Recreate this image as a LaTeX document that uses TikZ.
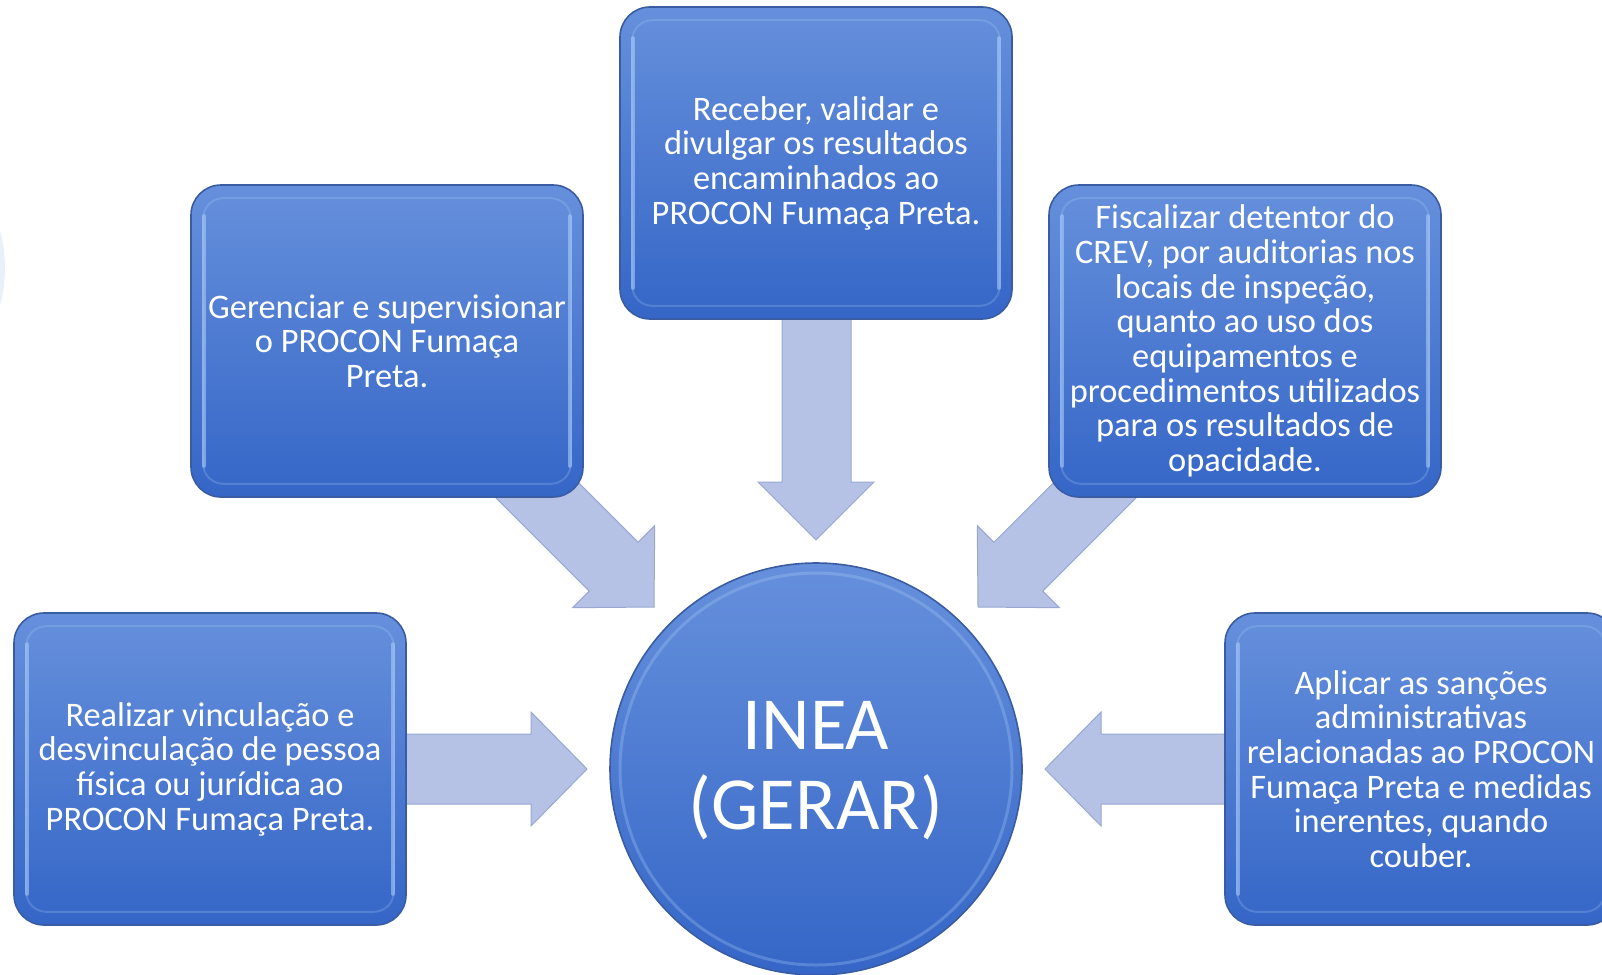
\documentclass[tikz,border=0pt]{standalone}
\usepackage{fontspec}
\setmainfont{Carlito}
\usetikzlibrary{calc}
\definecolor{boxtop}{HTML}{6690DC}
\definecolor{boxbot}{HTML}{3566C7}
\definecolor{boxrim}{HTML}{3A5CA3}
\definecolor{glow}{HTML}{A9CBF7}
\definecolor{arrowfill}{HTML}{B5C2E5}
\definecolor{arrowrim}{HTML}{98A8D1}
\definecolor{ghost}{HTML}{EAF0F9}
\tikzset{
  bluebox/.style={rectangle, rounded corners=30pt, minimum width=392pt, minimum height=312pt,
    top color=boxtop, bottom color=boxbot, draw=boxrim, line width=1.6pt,
    text=white, align=center, inner sep=0pt, font=\fontsize{34.4}{34.7}\selectfont},
  glowline/.style={draw=glow, line width=2pt, opacity=0.25, rounded corners=20pt},
  glowstrip/.style={draw=glow, line width=4pt, opacity=0.6, line cap=round},
  blockarrow/.style={fill=arrowfill, draw=arrowrim, line width=1pt, line join=miter},
  hub/.style={circle, minimum size=412pt, inner sep=0pt, top color=boxtop, bottom color=boxbot,
    draw=boxrim, line width=1.6pt},
  hubtext/.style={text=white, align=center, inner sep=0pt, font=\fontsize{75}{80}\selectfont}
}
\begin{document}
\begin{tikzpicture}[x=1pt,y=-1pt]
\useasboundingbox (0,0) rectangle (1602,974);
\clip (0,0) rectangle (1602,974);
\fill[white] (0,0) rectangle (1602,974);
% faint arc at the left edge
\fill[ghost] (-134.5,268) circle (139.5);
% block arrows (drawn before the boxes)
\draw[blockarrow] (782,300) -- (851,300) -- (851,482) -- (874,482) -- (816,540)
  -- (758,482) -- (782,482) -- cycle;
\draw[blockarrow] (380,734) -- (531,734) -- (531,712) -- (587,769) -- (531,826)
  -- (531,804) -- (380,804) -- cycle;
\draw[blockarrow] (1240,734) -- (1101,734) -- (1101,712) -- (1045,769) -- (1101,826)
  -- (1101,804) -- (1240,804) -- cycle;
\draw[blockarrow] (501.6,405.8) -- (638.1,542.3) -- (654.7,525.7) -- (654,607)
  -- (572.7,607.7) -- (589.3,591.1) -- (452.8,454.6) -- cycle;
\draw[blockarrow] (1130.4,405.8) -- (993.9,542.3) -- (977.3,525.7) -- (978,607)
  -- (1059.3,607.7) -- (1042.7,591.1) -- (1179.2,454.6) -- cycle;
% boxes
\node[bluebox] (top) at (816,163) {Receber, validar e\\divulgar os resultados\\encaminhados ao\\PROCON Fumaça Preta.};
\node[bluebox] (ul) at (387,341) {Gerenciar e supervisionar\\o PROCON Fumaça\\Preta.};
\node[bluebox] (ur) at (1245,341) {Fiscalizar detentor do\\CREV, por auditorias nos\\locais de inspeção,\\quanto ao uso dos\\equipamentos e\\procedimentos utilizados\\para os resultados de\\opacidade.};
\node[bluebox] (bl) at (210,769) {Realizar vinculação e\\desvinculação de pessoa\\física ou jurídica ao\\PROCON Fumaça Preta.};
\node[bluebox] (br) at (1421,769) {Aplicar as sanções\\administrativas\\relacionadas ao PROCON\\Fumaça Preta e medidas\\inerentes, quando\\couber.};
\foreach \b in {top,ul,ur,bl,br}{
  \draw[glowline] ([shift={(13pt,-14pt)}]\b.north west) rectangle ([shift={(-13pt,14pt)}]\b.south east);
  \draw[glowstrip] ([shift={(14pt,-32pt)}]\b.north west) -- ([shift={(14pt,32pt)}]\b.south west);
  \draw[glowstrip] ([shift={(-14pt,-32pt)}]\b.north east) -- ([shift={(-14pt,32pt)}]\b.south east);
}
% hub
\node[hub] (inea) at (816,769) {};
\draw[draw=glow, line width=3pt, opacity=0.3] (inea.center) circle (196pt);
\node[hubtext] (inealabel) at (816,771) {INEA\\(GERAR)};
\end{tikzpicture}
\end{document}
